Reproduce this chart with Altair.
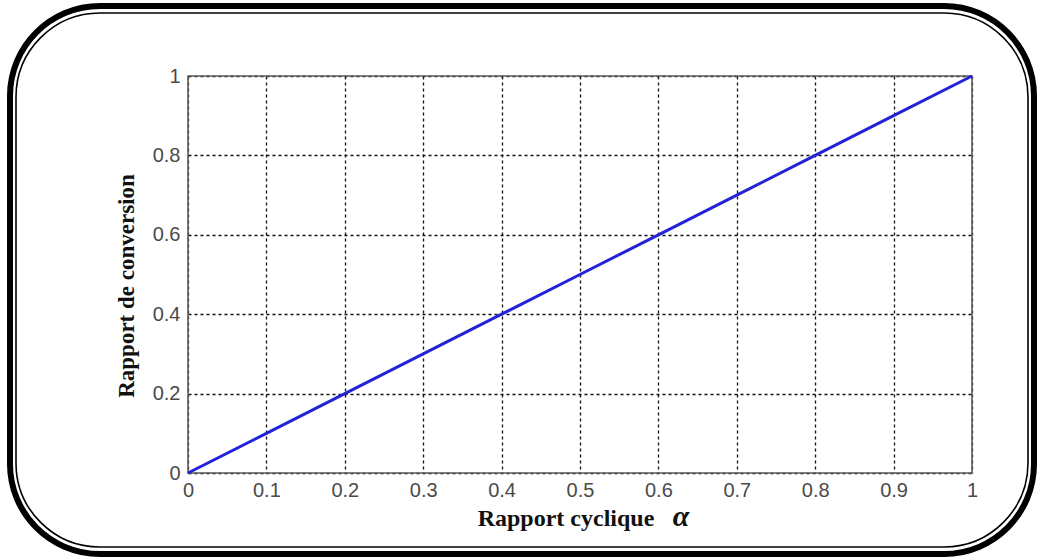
import altair as alt
import pandas as pd

# data
alpha = [0.0, 0.1, 0.2, 0.3, 0.4, 0.5, 0.6, 0.7, 0.8, 0.9, 1.0]
ratio = [0.0, 0.1, 0.2, 0.3, 0.4, 0.5, 0.6, 0.7, 0.8, 0.9, 1.0]
x_ticks = [0.0, 0.1, 0.2, 0.3, 0.4, 0.5, 0.6, 0.7, 0.8, 0.9, 1.0]
y_ticks = [0.0, 0.2, 0.4, 0.6, 0.8, 1.0]
x_title = "Rapport cyclique"
x_symbol = "α"
y_title = "Rapport de conversion"

W, H = 784, 397
PAD_L, PAD_T, PAD_R, PAD_B = 188, 76, 65, 84

df = pd.DataFrame({"alpha": alpha, "ratio": ratio})
one = pd.DataFrame({"k": [0]})

label_font = "Liberation Sans"
title_font = "Liberation Serif"

xscale = alt.Scale(domain=[0, 1], nice=False, zero=False)
yscale = alt.Scale(domain=[0, 1], nice=False, zero=False)

common_axis = dict(
    grid=True, gridDash=[3, 3], gridColor="#111111", gridWidth=1.3, gridOpacity=1,
    ticks=False, tickSize=0, domain=False, labelFlush=False, labelOverlap=False,
    labelFont=label_font, labelFontSize=20, labelColor="#4a4a4a", format="~g",
    title=None,
)

line = alt.Chart(df).mark_line(color="#2222d6", strokeWidth=3).encode(
    x=alt.X("alpha:Q", scale=xscale,
            axis=alt.Axis(values=x_ticks, labelPadding=7, **common_axis)),
    y=alt.Y("ratio:Q", scale=yscale,
            axis=alt.Axis(values=y_ticks, labelPadding=8, **common_axis)),
)

frame = alt.Chart(one).mark_rect(filled=False, stroke="#5c5c5c", strokeWidth=1.6).encode(
    x=alt.X(datum=0), x2=alt.X2(datum=1),
    y=alt.Y(datum=0), y2=alt.Y2(datum=1),
)

border_thick = alt.Chart(one).mark_rect(
    filled=False, stroke="black", strokeWidth=6, cornerRadius=90
).encode(
    x=alt.value(10 - PAD_L), x2=alt.value(1034 - PAD_L),
    y=alt.value(6 - PAD_T), y2=alt.value(554 - PAD_T),
)

border_thin = alt.Chart(one).mark_rect(
    filled=False, stroke="black", strokeWidth=1.6, cornerRadius=84
).encode(
    x=alt.value(16 - PAD_L), x2=alt.value(1028 - PAD_L),
    y=alt.value(13 - PAD_T), y2=alt.value(547 - PAD_T),
)

xt = alt.Chart(pd.DataFrame({"t": [x_title]})).mark_text(
    font=title_font, fontSize=24, fontWeight="bold", color="#111111",
    align="center", baseline="alphabetic",
).encode(text="t:N", x=alt.value(566 - PAD_L), y=alt.value(526 - PAD_T))

xa = alt.Chart(pd.DataFrame({"t": [x_symbol]})).mark_text(
    font=title_font, fontSize=30, fontWeight="bold", fontStyle="italic", color="#111111",
    align="center", baseline="alphabetic",
).encode(text="t:N", x=alt.value(681 - PAD_L), y=alt.value(526 - PAD_T))

yt = alt.Chart(pd.DataFrame({"t": [y_title]})).mark_text(
    font=title_font, fontSize=23, fontWeight="bold", color="#111111",
    align="center", baseline="middle", angle=270,
).encode(text="t:N", x=alt.value(127 - PAD_L), y=alt.value(286 - PAD_T))

chart = alt.layer(border_thick, border_thin, frame, line, xt, xa, yt).properties(
    width=W, height=H,
    autosize=alt.AutoSizeParams(type="none"),
    padding={"left": PAD_L, "top": PAD_T, "right": PAD_R, "bottom": PAD_B},
    background="white",
).configure_view(stroke=None)

chart.save("out.html", embed_options={"renderer": "svg", "actions": False})
